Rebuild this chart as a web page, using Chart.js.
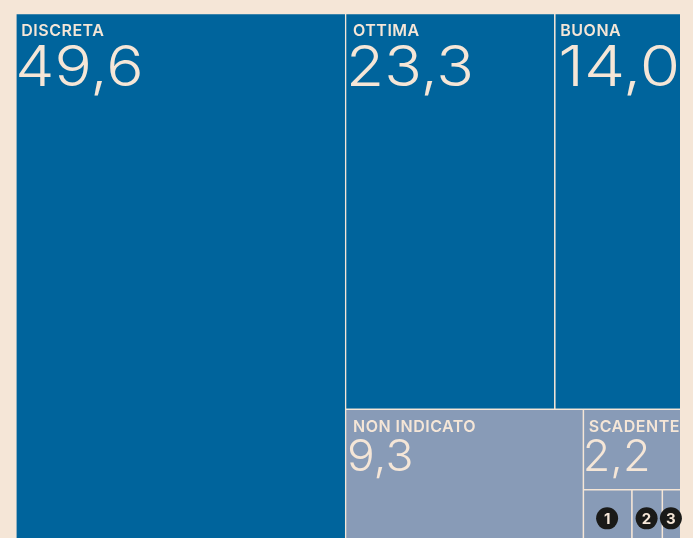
<!DOCTYPE html>
<html>
<head>
<meta charset="utf-8">
<title>Treemap</title>
<script src="https://cdn.jsdelivr.net/npm/chart.js@4/dist/chart.umd.js"></script>
<style>
  html, body { margin: 0; padding: 0; background: #f5e6d7; overflow: hidden; }
  #wrap { position: relative; width: 693px; height: 538px; }
</style>
</head>
<body>
<div id="wrap"><canvas id="chart"></canvas></div>
<script>
const CATEGORIES = ['DISCRETA', 'OTTIMA', 'BUONA', 'NON INDICATO', 'SCADENTE', '1', '2', '3'];
const VALUES = [49.6, 23.3, 14.0, 9.3, 2.2, 0.8, 0.5, 0.3];
const VALUE_LABELS = ['49,6', '23,3', '14,0', '9,3', '2,2', '', '', ''];
// nesting of the treemap: x = side by side, y = stacked, numbers index into VALUES
const NESTING = ['x', 0, ['y', ['x', 1, 2], ['x', 3, ['y', 4, ['x', 5, 6, 7]]]]];

const DARK = '#00649c';
const LIGHT = '#889bb7';
const CREAM = '#f5e6d7';
const CELL_COLORS = [DARK, DARK, DARK, LIGHT, LIGHT, LIGHT, LIGHT, LIGHT];

const total = (node) =>
  typeof node === 'number' ? VALUES[node] : node.slice(1).reduce((s, n) => s + total(n), 0);

const cells = [];
const layout = (node, x0, x1, y0, y1) => {
  if (typeof node === 'number') {
    cells[node] = { x: x0, x1: x1, y: y0, y1: y1 };
    return;
  }
  const sum = total(node);
  let pos = node[0] === 'x' ? x0 : y0;
  node.slice(1).forEach((child) => {
    const span = (total(child) / sum) * (node[0] === 'x' ? x1 - x0 : y1 - y0);
    if (node[0] === 'x') layout(child, pos, pos + span, y0, y1);
    else layout(child, x0, x1, pos, pos + span);
    pos += span;
  });
};
layout(NESTING, 0, 100, 0, 100);

class TreemapController extends Chart.DatasetController {
  update(mode) {
    const rects = this._cachedMeta.data;
    this.updateElements(rects, 0, rects.length, mode);
  }
  updateElements(rects, start, count, mode) {
    const { xScale, yScale } = this._cachedMeta;
    const data = this.getDataset().data;
    for (let i = start; i < start + count; i++) {
      const d = data[i];
      const left = xScale.getPixelForValue(d.x);
      const right = xScale.getPixelForValue(d.x1);
      const top = yScale.getPixelForValue(d.y);
      const bottom = yScale.getPixelForValue(d.y1);
      this.updateElement(rects[i], i, {
        x: (left + right) / 2,
        y: top,
        base: bottom,
        width: right - left,
        height: bottom - top,
        horizontal: false,
        inflateAmount: 0,
        enableBorderRadius: false,
        borderSkipped: { top: false, right: false, bottom: false, left: false },
        options: this.resolveDataElementOptions(i, mode),
      }, mode);
    }
  }
  draw() {
    const ctx = this._ctx;
    this._cachedMeta.data.forEach((rect) => rect.draw(ctx));
  }
}
TreemapController.id = 'treemap';
TreemapController.defaults = { dataElementType: 'bar' };
Chart.register(TreemapController);

// text offsets from each cell's corner
const NAME_DX = [6, 8, 6, 8, 6];
const VALUE_DX = [0, 1, 4, 2, 0];
// Inter is narrower than the original face, so the big numbers get stretched a bit
const VALUE_STRETCH = [1.11, 1.11, 1.17, 1.05, 1.02];

const stretchedText = (ctx, text, x, y, stretch) => {
  ctx.save();
  ctx.translate(x, y);
  ctx.scale(stretch, 1);
  ctx.fillText(text, 0, 0);
  ctx.restore();
};

const cellText = {
  id: 'cellText',
  afterDatasetsDraw(chart) {
    const { ctx } = chart;
    const rects = chart.getDatasetMeta(0).data;
    ctx.save();
    ctx.fillStyle = CREAM;
    ctx.textAlign = 'left';
    ctx.textBaseline = 'alphabetic';
    rects.forEach((r, i) => {
      const left = r.x - r.width / 2;
      const top = r.y;
      if (VALUE_LABELS[i]) {
        const big = VALUES[i] > 10;
        ctx.fillStyle = CREAM;
        ctx.font = '600 16px Inter';
        ctx.letterSpacing = '0.5px';
        ctx.fillText(CATEGORIES[i], left + NAME_DX[i], top + 23);
        ctx.letterSpacing = '0px';
        ctx.font = (big ? '350 56px' : '350 44px') + ' Inter';
        stretchedText(ctx, VALUE_LABELS[i], left + VALUE_DX[i], top + (big ? 73 : 62), VALUE_STRETCH[i]);
      } else {
        const cx = r.x;
        const cy = top + r.height / 2;
        ctx.beginPath();
        ctx.arc(cx, cy, 11, 0, Math.PI * 2);
        ctx.fillStyle = '#1a1a18';
        ctx.fill();
        ctx.fillStyle = CREAM;
        ctx.font = '700 15px Inter';
        ctx.textAlign = 'center';
        ctx.fillText(CATEGORIES[i], cx, cy + 5.5);
        ctx.textAlign = 'left';
      }
    });
    ctx.restore();
  },
};

new Chart(document.getElementById('chart'), {
  type: 'treemap',
  data: {
    labels: CATEGORIES,
    datasets: [{
      data: cells,
      backgroundColor: CELL_COLORS,
      borderColor: CREAM,
      borderWidth: { top: 1.3, left: 1.3, right: 0, bottom: 0 },
    }],
  },
  options: {
    responsive: true,
    maintainAspectRatio: false,
    animation: false,
    layout: { padding: { left: 15.3, right: 13, top: 13, bottom: 0 } },
    scales: {
      x: { type: 'linear', min: 0, max: 100, display: false },
      // the bottom of the treemap runs off the page
      y: { type: 'linear', min: 0, max: 98.2, reverse: true, display: false },
    },
    plugins: { legend: { display: false }, tooltip: { enabled: false } },
  },
  plugins: [cellText],
});
</script>
</body>
</html>
